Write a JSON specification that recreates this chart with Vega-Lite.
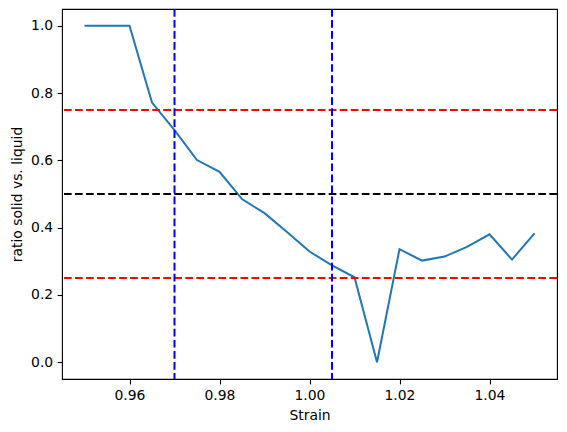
{
  "$schema": "https://vega.github.io/schema/vega-lite/v6.json",
  "width": 495,
  "height": 370,
  "autosize": "none",
  "padding": {"left": 62, "top": 9, "right": 10, "bottom": 53},
  "background": "white",
  "config": {
    "view": {"stroke": "black", "strokeWidth": 1.1},
    "font": "DejaVu Sans",
    "axis": {
      "grid": false,
      "domain": false,
      "tickColor": "black",
      "tickSize": 4.86,
      "tickWidth": 1.1,
      "labelFont": "DejaVu Sans",
      "labelFontSize": 13.9,
      "labelColor": "black",
      "titleFont": "DejaVu Sans",
      "titleFontSize": 13.9,
      "titleFontWeight": "normal",
      "titleColor": "black",
      "labelPadding": 4.5
    }
  },
  "datasets": {
    "curve": [
      {"strain": 0.95, "ratio": 1.0},
      {"strain": 0.955, "ratio": 1.0},
      {"strain": 0.96, "ratio": 1.0},
      {"strain": 0.965, "ratio": 0.772},
      {"strain": 0.97, "ratio": 0.69},
      {"strain": 0.975, "ratio": 0.601},
      {"strain": 0.98, "ratio": 0.566},
      {"strain": 0.985, "ratio": 0.485},
      {"strain": 0.99, "ratio": 0.443},
      {"strain": 0.995, "ratio": 0.387},
      {"strain": 1.0, "ratio": 0.329},
      {"strain": 1.005, "ratio": 0.288},
      {"strain": 1.01, "ratio": 0.2525},
      {"strain": 1.015, "ratio": 0.0},
      {"strain": 1.02, "ratio": 0.336},
      {"strain": 1.025, "ratio": 0.302},
      {"strain": 1.03, "ratio": 0.314},
      {"strain": 1.035, "ratio": 0.343},
      {"strain": 1.04, "ratio": 0.38},
      {"strain": 1.045, "ratio": 0.305},
      {"strain": 1.05, "ratio": 0.383}
    ],
    "hlines": [
      {"y": 0.75, "c": "red"},
      {"y": 0.25, "c": "red"},
      {"y": 0.5, "c": "black"}
    ],
    "vlines": [
      {"x": 0.97},
      {"x": 1.005}
    ]
  },
  "layer": [
    {
      "data": {"name": "curve"},
      "mark": {"type": "line", "color": "#1f77b4", "strokeWidth": 2, "clip": true},
      "encoding": {
        "x": {
          "field": "strain", "type": "quantitative",
          "scale": {"domain": [0.945, 1.055], "nice": false, "zero": false},
          "axis": {"title": "Strain", "values": [0.96, 0.98, 1.0, 1.02, 1.04], "format": ".2f", "titlePadding": 6}
        },
        "y": {
          "field": "ratio", "type": "quantitative",
          "scale": {"domain": [-0.05, 1.05], "nice": false, "zero": false},
          "axis": {"title": "ratio solid vs. liquid", "values": [0, 0.2, 0.4, 0.6, 0.8, 1.0], "format": ".1f", "titlePadding": 6}
        }
      }
    },
    {
      "data": {"name": "hlines"},
      "mark": {"type": "rule", "strokeWidth": 2, "strokeDash": [7.7, 3.33]},
      "encoding": {
        "y": {"field": "y", "type": "quantitative"},
        "color": {"field": "c", "type": "nominal", "scale": null}
      }
    },
    {
      "data": {"name": "vlines"},
      "mark": {"type": "rule", "strokeWidth": 2, "strokeDash": [7.7, 3.33], "color": "blue"},
      "encoding": {
        "x": {"field": "x", "type": "quantitative"}
      }
    }
  ]
}
